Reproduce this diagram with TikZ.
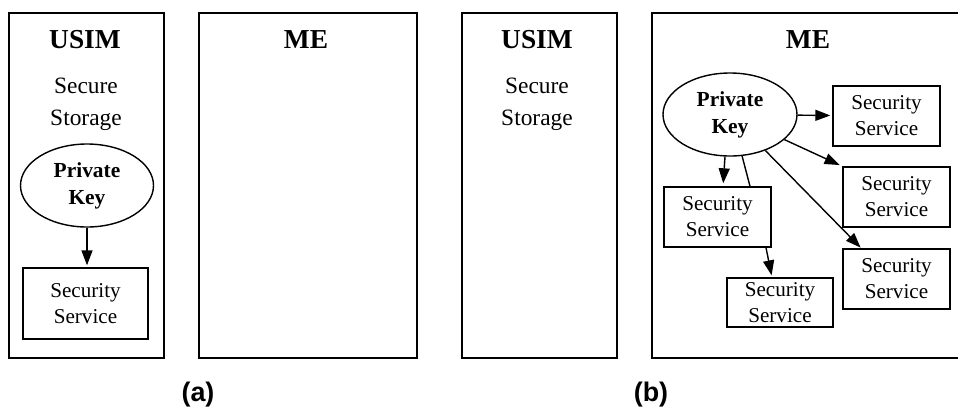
\documentclass[tikz,border=0pt]{standalone}
\usepackage{fontspec}
\setmainfont{Liberation Serif}
\newfontfamily\labfont{Liberation Sans}
\usetikzlibrary{shapes.geometric,arrows.meta}
\begin{document}
\begin{tikzpicture}[x=1bp,y=-1bp,
  frame/.style={draw,line width=1.5bp},
  titlefont/.style={font=\bfseries\fontsize{27.5}{30}\selectfont},
  storfont/.style={font=\fontsize{23.5}{32}\selectfont,align=center},
  keynode/.style={ellipse,draw,line width=1.4bp,inner sep=0pt,align=center,
     font=\bfseries\fontsize{21.5}{27}\selectfont},
  svc/.style={rectangle,draw,line width=1.4bp,inner sep=0pt,align=center,
     font=\fontsize{21.2}{26}\selectfont},
  arr/.style={line width=1.4bp,-{Triangle[length=15bp,width=11bp]}},
  plain/.style={line width=1.4bp},
  lab/.style={font=\labfont\bfseries\fontsize{27}{30}\selectfont}]
\useasboundingbox (0,0) rectangle (958,409);
% (a)
\draw[frame] (9,13) rectangle (164,358);
\draw[frame] (199,13) rectangle (417,358);
\node[titlefont] (usimA) at (85,40) {USIM};
\node[titlefont] (meA) at (306,40) {ME};
\node[storfont] (storA) at (86,104) {Secure\\Storage};
\node[keynode,minimum width=133bp,minimum height=83bp] (ka) at (87,185.5) {Private\\Key};
\node[svc,minimum width=125bp,minimum height=71bp] (sa) at (85.5,303.5) {Security\\Service};
\draw[arr,shorten >=2bp] (ka.south) -- (ka.south |- sa.north);
\node[lab] (la) at (198,395) {(a)};
% (b)
\draw[frame] (462,13) rectangle (617,358);
\draw[frame] (958,13) -- (652,13) -- (652,358) -- (958,358);
\node[titlefont] (usimB) at (537,40) {USIM};
\node[titlefont] (meB) at (808,40) {ME};
\node[storfont] (storB) at (537,104) {Secure\\Storage};
\node[keynode,minimum width=134bp,minimum height=83bp] (kb) at (730,114.5) {Private\\Key};
\node[svc,minimum width=107bp,minimum height=60bp] (s1) at (886.5,116) {Security\\Service};
\node[svc,minimum width=107bp,minimum height=60bp] (s2) at (896.5,197) {Security\\Service};
\node[svc,minimum width=107bp,minimum height=60bp] (s3) at (896.5,279) {Security\\Service};
\node[svc,minimum width=107bp,minimum height=60bp] (s4) at (717.5,217) {Security\\Service};
\node[svc,minimum width=106bp,minimum height=49bp] (s5) at (780,302.5) {Security\\Service};
\draw[arr,shorten >=2bp] (kb) -- (s1);
\draw[arr,shorten >=3bp] (kb) -- (s2.north west);
\draw[arr,shorten >=1bp] (kb) -- ([xshift=19bp]s3.north west);
\draw[arr,shorten >=3bp] ([xshift=-5bp]kb.south) -- ([xshift=5.5bp]s4.north);
\draw[plain] ([xshift=12bp,yshift=1bp]kb.south) -- ([xshift=32.5bp]s4.north);
\draw[arr,shorten >=2bp] ([xshift=48.5bp]s4.south) -- ([xshift=-8bp]s5.north);
\node[lab] (lb) at (651,395) {(b)};
\end{tikzpicture}
\end{document}
